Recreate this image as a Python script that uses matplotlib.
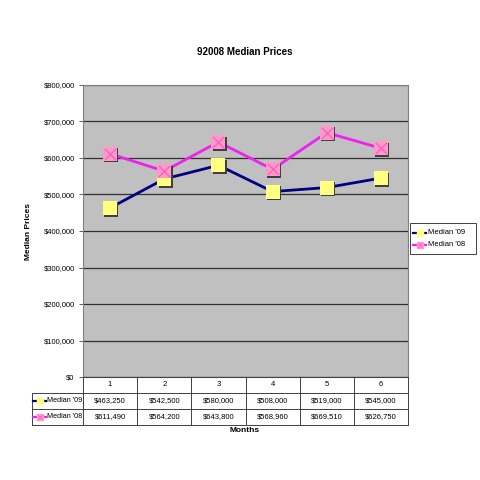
import matplotlib
matplotlib.use("Agg")
import matplotlib.pyplot as plt
from matplotlib.lines import Line2D

months = [1, 2, 3, 4, 5, 6]
median_09 = [463250, 542500, 580000, 508000, 519000, 545000]
median_08 = [611490, 564200, 643800, 568960, 669510, 626750]
series_names = ["Median '09", "Median '08"]
y_ticks = [0, 100000, 200000, 300000, 400000, 500000, 600000, 700000, 800000]

plt.rcParams['font.family'] = ['Liberation Sans', 'DejaVu Sans']

W = H = 480.0


def px(x, y):
    # pixel coords (top-left origin) -> figure fraction
    return x / W, 1 - y / H


fig = plt.figure(figsize=(4.8, 4.8), dpi=100)
fig.patch.set_facecolor('white')

left, right, top, bottom = 83, 408, 85, 377
ax = fig.add_axes([left / W, 1 - bottom / H, (right - left) / W, (bottom - top) / H])
ax.set_facecolor('#C0C0C0')
ax.set_xlim(0.5, 6.5)
ax.set_ylim(0, 800000)
ax.set_yticks(y_ticks)
ax.set_yticklabels(['$0' if v == 0 else '${:,}'.format(v) for v in y_ticks], fontsize=5.5)
ax.set_xticks([])
ax.grid(axis='y', color='#303030', linewidth=0.9)
ax.set_axisbelow(True)
ax.tick_params(axis='y', length=3, width=0.6, color='#444444', pad=3)
for s in ax.spines.values():
    s.set_color('#808080')
    s.set_linewidth(0.8)

pink_line = '#EE22EE'

# '09 line with yellow squares
ax.plot(months, median_09, color='#000080', linewidth=2, zorder=3)
ax.scatter([m + 0.025 for m in months], [v - 4500 for v in median_09], marker='s', s=105,
           color='#404040', zorder=4, linewidths=0)
ax.scatter(months, median_09, marker='s', s=105, color='#FFFF80', zorder=5, linewidths=0)

# '08 line with pink x squares
ax.plot(months, median_08, color=pink_line, linewidth=2, zorder=3)
ax.scatter([m + 0.025 for m in months], [v - 4500 for v in median_08], marker='s', s=105,
           color='#404040', zorder=4, linewidths=0)
ax.scatter(months, median_08, marker='s', s=105, color='#FF99CC', zorder=5, linewidths=0)
ax.scatter(months, median_08, marker='x', s=65, color='#FF55BB', zorder=6, linewidths=0.8)

fig.text(*px(29, 231), 'Median Prices', fontsize=6, fontweight='bold', ha='center', va='center',
         rotation=90)

fig.text(*px(245, 52), '92008 Median Prices', fontsize=7, fontweight='bold', ha='center', va='center')

# data table under the plot
rows_y = [377, 393, 409, 425]
label_left = 32
col_w = (right - left) / 6.0
line_kw = dict(color='#404040', linewidth=0.7, transform=fig.transFigure)


def hline(x0, x1, y):
    a, b = px(x0, y)
    c, d = px(x1, y)
    fig.add_artist(Line2D([a, c], [b, d], **line_kw))


def vline(x, y0, y1):
    a, b = px(x, y0)
    c, d = px(x, y1)
    fig.add_artist(Line2D([a, c], [b, d], **line_kw))


hline(left, right, rows_y[0])
for y in rows_y[1:]:
    hline(label_left, right, y)
vline(label_left, rows_y[1], rows_y[3])
for i in range(7):
    vline(left + i * col_w, rows_y[0], rows_y[3])

for i, m in enumerate(months):
    cx = left + (i + 0.5) * col_w
    fig.text(*px(cx, (rows_y[0] + rows_y[1]) / 2), str(m), fontsize=5.5, ha='center', va='center')
    fig.text(*px(cx, (rows_y[1] + rows_y[2]) / 2), '${:,}'.format(median_09[i]), fontsize=5.5,
             ha='center', va='center')
    fig.text(*px(cx, (rows_y[2] + rows_y[3]) / 2), '${:,}'.format(median_08[i]), fontsize=5.5,
             ha='center', va='center')


def legend_key(x, y, color, face, cross):
    a, b = px(x, y)
    c, _ = px(x + 13, y)
    fig.add_artist(Line2D([a, c], [b, b], color=color, linewidth=1.6, transform=fig.transFigure))
    mx, _ = px(x + 6.5, y)
    fig.add_artist(Line2D([mx], [b], marker='s', markersize=4, color=face, linewidth=0,
                          transform=fig.transFigure))
    if cross:
        fig.add_artist(Line2D([mx], [b], marker='x', markersize=3.5, color='#FF55BB',
                              markeredgewidth=0.6, linewidth=0, transform=fig.transFigure))


for (yy, col, face, cross, name) in [((rows_y[1] + rows_y[2]) / 2, '#000080', '#FFFF80', False, series_names[0]),
                                     ((rows_y[2] + rows_y[3]) / 2, pink_line, '#FF99CC', True, series_names[1])]:
    legend_key(label_left + 1, yy, col, face, cross)
    fig.text(*px(label_left + 15, yy), name, fontsize=5.2, ha='left', va='center')

fig.text(*px(245, 430), 'Months', fontsize=6, fontweight='bold', ha='center', va='center')

# legend box on the right
lx0, ly0, lx1, ly1 = 410, 223, 476, 254
bx, by = px(lx0, ly1)
box = plt.Rectangle((bx, by), (lx1 - lx0) / W, (ly1 - ly0) / H, transform=fig.transFigure,
                    facecolor='white', edgecolor='#404040', linewidth=0.7)
fig.add_artist(box)
legend_key(lx0 + 3, 233, '#000080', '#FFFF80', False)
fig.text(*px(lx0 + 18, 233), series_names[0], fontsize=5.5, ha='left', va='center')
legend_key(lx0 + 3, 245, pink_line, '#FF99CC', True)
fig.text(*px(lx0 + 18, 245), series_names[1], fontsize=5.5, ha='left', va='center')

fig.savefig('out.png', dpi=100)
